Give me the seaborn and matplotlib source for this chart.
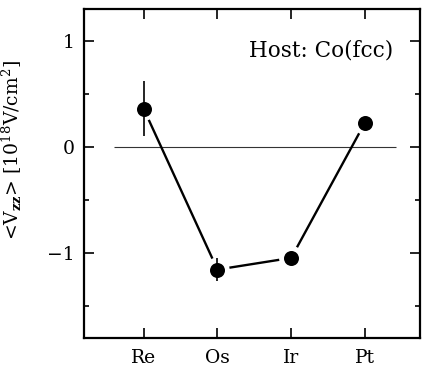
import matplotlib
matplotlib.use("Agg")
import matplotlib.pyplot as plt
from matplotlib.ticker import MultipleLocator, FixedLocator, FuncFormatter
import numpy as np
import pandas as pd
import seaborn as sns

# Impurities in the Co(fcc) host and their hyperfine field gradients
elements = ["Re", "Os", "Ir", "Pt"]
vzz = [0.36, -1.155, -1.045, 0.23]
vzz_err = [0.26, 0.11, 0.0, 0.0]

sns.set_theme(style="ticks")
plt.rcParams["font.family"] = ["DejaVu Serif"]
plt.rcParams["mathtext.fontset"] = "dejavuserif"
plt.rcParams["text.color"] = "black"
plt.rcParams["axes.labelcolor"] = "black"

df = pd.DataFrame({"pos": np.arange(1, len(elements) + 1), "element": elements,
                   "vzz": vzz, "err": vzz_err})

fig = plt.figure(figsize=(4.22, 3.66), dpi=100)
ax = fig.add_axes([0.199, 0.0765, 0.796, 0.8985])

# reference line at zero
ax.hlines(0, 0.6, 4.42, color="#333333", linewidth=0.8, zorder=1)

# connecting line, interrupted around each point by a white halo
sns.lineplot(data=df, x="pos", y="vzz", sort=False, color="black",
             linewidth=1.7, ax=ax, zorder=2)
sns.scatterplot(data=df, x="pos", y="vzz", s=17.5 ** 2, color="white",
                edgecolor="none", linewidth=0, ax=ax, zorder=3)
ax.errorbar(df["pos"], df["vzz"], yerr=df["err"], fmt="none",
            ecolor="black", elinewidth=1.2, capsize=0, zorder=4)
sns.scatterplot(data=df, x="pos", y="vzz", s=10.8 ** 2, color="black",
                edgecolor="black", linewidth=0, ax=ax, zorder=5)

ax.set_xlim(0.19, 4.745)
ax.set_ylim(-1.8, 1.3)
ax.xaxis.set_major_locator(FixedLocator(df["pos"]))
ax.set_xticklabels(elements)
ax.yaxis.set_major_locator(MultipleLocator(1))
ax.yaxis.set_minor_locator(MultipleLocator(0.5))
ax.yaxis.set_major_formatter(FuncFormatter(
    lambda v, p: "\u2212%d" % abs(v) if v < 0 else "%d" % v))

ax.tick_params(which="both", direction="in", top=True, right=True,
               width=1.2, colors="black", labelsize=13.5)
ax.tick_params(axis="x", pad=8)
ax.tick_params(axis="y", pad=7)
ax.tick_params(which="major", length=7)
ax.tick_params(which="minor", length=3.5)
for s in ax.spines.values():
    s.set_linewidth(1.6)
    s.set_color("black")

ax.set_xlabel("")
ax.set_ylabel(r"<V$_{\mathbf{zz}}$> [10$^{18}$V/cm$^{2}$]", fontsize=13.5,
              color="black")
ax.yaxis.set_label_coords(-0.179, 0.573)
ax.text(0.922, 0.873, "Host: Co(fcc)", transform=ax.transAxes, ha="right",
        va="center", fontsize=15.5, color="black")

fig.savefig("out.png", dpi=100)
